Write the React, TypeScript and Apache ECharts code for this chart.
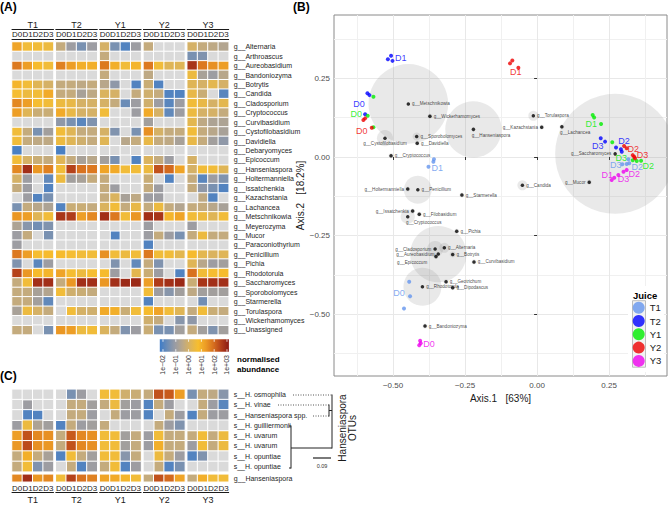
import React, { useEffect, useRef } from "react";
import * as echarts from "echarts";

const N = null;
const FONT = "'Liberation Sans', Arial, Helvetica, sans-serif";

const juices = ["T1", "T2", "Y1", "Y2", "Y3"];
const days = ["D0", "D1", "D2", "D3"];
const juiceColors = ["#6495ED", "#0000FF", "#00EE00", "#EE0000", "#EE00EE"];

const genera = ["g__Alternaria","g__Arthroascus","g__Aureobasidium","g__Bandoniozyma","g__Botrytis","g__Candida","g__Cladosporium","g__Cryptococcus","g__Curvibasidium","g__Cystofilobasidium","g__Davidiella","g__Debaryomyces","g__Epicoccum","g__Hanseniaspora","g__Holtermanniella","g__Issatchenkia","g__Kazachstania","g__Lachancea","g__Metschnikowia","g__Meyerozyma","g__Mucor","g__Paraconiothyrium","g__Penicillium","g__Pichia","g__Rhodotorula","g__Saccharomyces","g__Sporobolomyces","g__Starmerella","g__Torulaspora","g__Wickerhamomyces","g__Unassigned"];

// log10 normalised abundance, null = absent
const genusT1 = [[1.2,0.6,0.6,0.5],[N,N,N,N],[1.8,1.3,0.8,0.6],[N,N,N,N],[0.9,0.6,0.2,0.0],[0.7,0.5,0.6,1.1],[1.6,1.3,0.7,0.6],[1.3,0.2,-0.2,-0.2],[N,N,N,N],[0.6,-0.3,-1.5,-0.9],[0.6,-0.3,-0.4,-0.4],[-2.1,N,N,N],[0.6,0.0,-0.2,-0.3],[1.6,2.8,1.4,1.7],[0.0,-1.0,N,-1.8],[-0.3,-1.0,N,-2.0],[N,-1.0,-2.0,-1.5],[-1.5,-0.3,-0.5,-0.7],[1.4,1.3,0.2,0.6],[-0.7,-1.3,-1.6,-1.4],[-1.0,-0.3,N,-1.5],[-1.0,N,N,N],[1.8,1.3,0.7,0.8],[-1.4,N,-1.9,-1.0],[2.5,1.4,0.8,0.9],[-0.3,0.6,2.8,2.8],[-0.3,-0.3,-0.8,-0.6],[-0.3,-0.3,-0.9,-1.8],[-0.8,0.5,0.0,-0.3],[N,N,N,N],[-0.3,-0.3,N,-1.5]];
const genusT2 = [[-0.3,-1.0,-1.5,-1.0],[N,N,N,N],[1.7,1.3,1.0,1.0],[N,N,N,N],[-0.3,-0.3,-0.4,-0.3],[-0.3,-0.3,-0.8,-0.4],[0.5,0.4,0.0,0.0],[1.1,0.4,0.0,0.0],[-1.2,-1.5,-1.9,-1.4],[0.6,0.2,-0.3,-0.3],[0.5,0.2,-0.1,-0.3],[-2.1,N,N,N],[0.2,-0.3,-0.8,-0.5],[0.6,2.5,1.9,1.8],[0.5,-0.9,-0.8,-0.3],[N,N,N,N],[N,N,N,N],[-2.0,-0.2,-0.2,-0.3],[2.7,2.6,1.3,1.6],[N,N,N,N],[N,N,N,N],[N,N,N,N],[0.8,0.7,0.6,0.6],[N,N,N,N],[1.2,0.7,0.5,0.7],[-0.3,1.4,2.8,2.8],[0.6,-0.1,-0.2,-0.3],[N,N,N,N],[N,0.6,0.0,-0.1],[N,N,N,N],[1.4,1.3,0.5,0.6]];
const genusY1 = [[0.0,-1.5,-2.0,-1.0],[-0.3,N,N,N],[1.8,1.0,0.6,0.9],[-0.3,N,N,N],[-0.5,-1.2,N,-2.0],[0.1,0.0,N,-0.3],[0.0,-0.3,-1.7,-1.0],[0.6,N,N,-1.0],[N,N,N,N],[0.0,-1.4,N,-1.5],[0.2,N,-0.5,-0.3],[N,N,N,N],[-0.9,-1.5,N,-2.0],[1.2,1.1,0.6,0.6],[-0.3,N,N,N],[-0.3,-1.0,N,N],[-0.3,0.1,-0.8,-0.4],[0.1,0.6,-0.3,0.4],[2.8,1.8,0.6,1.4],[N,N,N,N],[N,-2.0,N,N],[N,N,N,N],[1.5,0.6,0.5,0.6],[N,-1.4,N,-1.8],[0.8,-1.0,N,0.3],[1.4,2.8,2.9,2.9],[N,N,N,N],[N,N,N,N],[1.1,1.0,-0.2,0.6],[N,N,N,N],[0.1,-0.3,-1.4,-1.0]];
const genusY2 = [[-0.3,N,N,N],[N,N,N,N],[1.8,0.6,0.2,0.2],[-0.4,N,N,N],[-0.2,-2.0,N,N],[-0.1,-0.3,-2.0,-2.0],[-0.1,-1.0,-1.9,-1.0],[1.1,0.0,-1.8,-1.0],[-0.9,N,N,N],[1.5,0.0,-0.3,-0.3],[0.4,-0.3,-0.4,-0.8],[N,N,N,N],[0.1,-0.3,-1.0,N],[0.5,2.3,2.0,1.2],[-0.2,N,-2.0,N],[-0.3,-1.0,N,N],[-1.0,-1.0,N,N],[-0.3,0.5,-0.3,-0.6],[2.8,2.7,0.9,1.2],[-1.0,N,N,N],[-1.0,-0.3,-1.0,-1.5],[-2.0,N,N,N],[1.8,0.6,0.6,0.3],[-0.3,-1.4,N,N],[-0.2,-1.0,N,-2.0],[1.3,2.6,2.8,2.9],[0.6,-1.0,-1.3,-0.9],[-2.0,N,N,N],[0.8,1.2,0.6,0.2],[-0.1,-0.3,N,-1.3],[-0.2,-1.5,-1.5,-0.9]];
const genusY3 = [[0.0,-0.3,-0.4,-0.6],[-1.5,-1.4,N,N],[2.7,1.8,1.5,1.3],[0.5,-0.8,-1.0,-0.5],[0.2,0.0,0.3,0.0],[0.4,-0.2,N,-1.9],[0.6,0.4,0.0,0.3],[0.5,0.0,0.0,-0.3],[0.3,-0.4,-0.7,-0.7],[0.6,-0.3,-0.5,-0.8],[0.4,-0.3,-0.9,-1.2],[N,N,N,N],[0.0,N,N,N],[0.0,0.6,0.6,0.2],[-0.3,-1.9,-1.0,-1.4],[-0.3,-1.2,-1.5,-2.0],[N,-0.4,-2.0,N],[-0.3,-0.3,-0.5,-0.8],[0.6,0.5,0.2,0.6],[-1.0,N,N,N],[-0.3,0.5,-0.3,-0.3],[N,N,N,N],[0.8,0.3,0.1,0.2],[0.2,-0.5,-1.0,-0.9],[1.9,0.6,0.7,0.8],[-0.2,2.7,2.8,2.8],[-0.4,-0.9,-0.9,-0.9],[N,-1.6,N,N],[-0.3,0.6,-0.2,-0.3],[-1.2,N,N,N],[-0.3,-0.9,-1.4,-0.9]];

const otus = ["s__H. osmophila","s__H. vinae","s__Hanseniaspora spp.","s__H. guilliermonii","s__H. uvarum","s__H. uvarum","s__H. opuntiae","s__H. opuntiae"];
const genusRow = ["g__Hanseniaspora"];
const otuT1 = [[N,N,N,N],[N,-1.0,N,N],[N,-2.0,-2.0,N],[-1.0,0.5,-0.7,-0.9],[1.3,2.3,1.6,1.5],[1.4,2.4,1.5,1.4],[-0.3,1.0,-0.3,-0.8],[-0.3,0.6,-1.4,-1.0]];
const otuT2 = [[N,-1.5,-1.0,N],[N,-0.3,-0.3,-0.9],[N,-0.3,-0.3,-1.0],[-2.0,-0.3,-1.0,-0.9],[-0.3,2.2,1.6,1.5],[-0.3,2.3,1.6,1.5],[-2.0,0.6,-0.3,-0.9],[N,-0.3,-2.0,-1.0]];
const otuY1 = [[0.6,0.6,-0.1,-0.2],[-0.3,0.5,-0.9,-1.0],[N,-0.3,-1.0,-1.0],[-0.3,N,N,N],[0.6,0.6,-0.9,-0.3],[0.6,0.6,-0.9,-0.3],[0.6,0.6,-1.3,-0.3],[-0.3,0.6,-2.0,-1.0]];
const otuY2 = [[-0.3,2.3,2.2,1.3],[-2.0,-0.3,-1.0,N],[-2.0,N,-0.3,-1.0],[N,-0.3,-1.0,-1.4],[-1.0,0.6,-0.3,-0.3],[-1.0,1.0,-0.3,-0.3],[N,0.5,-0.3,-1.0],[N,-0.3,-2.0,-1.5]];
const otuY3 = [[-1.5,-0.3,-0.4,-1.3],[N,-0.3,-1.0,-1.9],[-2.0,-0.3,-1.0,-1.0],[N,N,N,N],[-0.3,0.6,-0.3,0.5],[-1.0,0.6,-0.3,0.5],[-2.0,-1.4,N,N],[N,N,N,N]];
const hanseT1 = [[1.6,2.8,1.4,1.6]];
const hanseT2 = [[0.6,2.5,1.9,1.7]];
const hanseY1 = [[1.2,1.1,0.9,0.6]];
const hanseY2 = [[-0.3,2.3,2.0,1.2]];
const hanseY3 = [[-0.3,1.0,0.6,0.6]];

const colorTicks = [-2, -1, 0, 1, 2, 3];
const colorTickLabels = ["1e\u221202", "1e\u221201", "1e+00", "1e+01", "1e+02", "1e+03"];

// Panel B: ordination
const taxaNames = ["g__Metschnikowia","g__Wickerhamomyces","g__Cystofilobasidium","g__Sporobolomyces","g__Davidiella","g__Cryptococcus","g__Holtermanniella","g__Penicillium","g__Issatchenkia","g__Filobasidium","g__Cryptococcus","g__Hanseniaspora","g__Torulaspora","g__Kazachstania","g__Lachancea","g__Saccharomyces","g__Candida","g__Mucor","g__Starmerella","g__Pichia","g__Alternaria","g__Botrytis","g__Curvibasidium","g__Geotrichum","g__Dipodascus","g__Bandoniozyma","g__Cladosporium","g__Aureobasidium","g__Epicoccum","g__Rhodotorula"];
const taxaAxis1 = [-0.447,-0.372,-0.528,-0.418,-0.416,-0.507,-0.449,-0.414,-0.432,-0.409,-0.449,-0.221,-0.013,0.016,0.086,0.271,-0.051,0.181,-0.261,-0.279,-0.322,-0.293,-0.219,-0.316,-0.293,-0.389,-0.354,-0.343,-0.351,-0.398];
const taxaAxis2 = [0.169,0.130,0.060,0.065,0.044,0.004,-0.102,-0.104,-0.172,-0.182,-0.190,0.088,0.131,0.095,0.096,0.010,-0.090,-0.080,-0.121,-0.236,-0.289,-0.310,-0.334,-0.397,-0.416,-0.538,-0.293,-0.309,-0.317,-0.413];
const taxaWeight = [44,0.17,1.8,0.45,0.17,0.17,0.17,5.4,0.17,0.17,1.4,22,0.7,0.17,0.17,100,0.7,0.17,0.17,0.17,0.7,0.25,0.17,0.17,0.17,0.17,1.8,22,0.17,10];
const taxaLabelSide = ["right","right","bottom","right","right","right","left","right","left","right","belowRight","belowRight","right","left","belowRight","left","right","left","right","right","right","right","right","right","right","right","left","left","belowLeft","right"];

const t1Axis1 = [-0.358,-0.360,-0.377,-0.444,-0.441,-0.462,0.296,0.311,0.320,0.317];
const t1Axis2 = [-0.007,-0.015,-0.031,-0.397,-0.443,-0.482,-0.023,-0.022,-0.020,-0.007];
const t2Axis1 = [-0.518,-0.507,-0.502,-0.589,-0.582,-0.597,0.221,0.236,0.274,0.291,0.294];
const t2Axis2 = [0.311,0.322,0.306,0.203,0.197,0.136,0.060,0.049,0.030,0.025,0.017];
const y1Axis1 = [-0.568,-0.588,-0.568,0.193,0.198,0.222,0.261,0.332,0.346,0.361];
const y1Axis2 = [0.192,0.131,0.095,0.134,0.126,0.105,0.047,-0.010,-0.013,-0.012];
const y2Axis1 = [-0.094,-0.086,-0.065,-0.603,-0.597,-0.574,0.302,0.311,0.332,0.337,0.340];
const y2Axis2 = [0.298,0.307,0.284,0.118,0.123,0.093,0.035,0.028,0.006,0.001,-0.004];
const y3Axis1 = [-0.406,-0.404,-0.409,0.259,0.268,0.282,0.300,0.311];
const y3Axis2 = [-0.585,-0.593,-0.599,-0.073,-0.066,-0.057,-0.047,-0.041];

const t1Labels = [["D1",-0.347,-0.035],["D0",-0.479,-0.433],["D3",0.273,-0.025],["D2",0.348,-0.031]];
const t2Labels = [["D1",-0.473,0.316],["D0",-0.618,0.168],["D3",0.211,0.035],["D2",0.302,0.051]];
const y1Labels = [["D0",-0.628,0.137],["D1",0.188,0.105],["D3",0.292,-0.004],["D2",0.386,-0.028]];
const y2Labels = [["D1",-0.074,0.270],["D0",-0.609,0.084],["D2",0.334,0.025],["D3",0.366,0.006]];
const y3Labels = [["D0",-0.375,-0.596],["D1",0.244,-0.057],["D3",0.300,-0.070],["D2",0.337,-0.054]];

const xTickVals = [-0.5, -0.25, 0, 0.25];
const xMinorVals = [-0.625, -0.375, -0.125, 0.125, 0.375];
const yTickVals = [-0.5, -0.25, 0, 0.25];
const yMinorVals = [-0.625, -0.375, -0.125, 0.125, 0.375];

const cellColors = ["#3e7cc8","#6e8db5","#9a9ca4","#bba888","#ddb45a","#f7be2e","#ec9b25","#d66e1e","#b23e1a","#8b1a14"];
const SCALE_MIN = -2.25;
const SCALE_MAX = 3.15;

function buildOption() {
  const grids: any[] = [];
  const xAxes: any[] = [];
  const yAxes: any[] = [];
  const series: any[] = [];
  const valueSeries: number[] = [];
  const naSeries: number[] = [];

  const groupLeft = (g: number) => 12 + g * 43.8;
  const GW = 41.5;
  const dark = "#1a1a1a";

  const heat = (xi: number, yi: number, rows: (number | null)[][]) => {
    const vals: number[][] = [];
    const nas: number[][] = [];
    rows.forEach((row, r) => row.forEach((v, c) => {
      if (v == null) nas.push([c, r, 0]); else vals.push([c, r, v]);
    }));
    valueSeries.push(series.length);
    series.push({ type: "heatmap", xAxisIndex: xi, yAxisIndex: yi, data: vals, silent: true,
      itemStyle: { borderColor: "#fff", borderWidth: 1 }, emphasis: { disabled: true } });
    naSeries.push(series.length);
    series.push({ type: "heatmap", xAxisIndex: xi, yAxisIndex: yi, data: nas, silent: true,
      itemStyle: { borderColor: "#fff", borderWidth: 1 }, emphasis: { disabled: true } });
  };

  const hiddenX = (gi: number) => ({ type: "category", gridIndex: gi, data: days, show: false });

  const genusByJuice = [genusT1, genusT2, genusY1, genusY2, genusY3];
  const otuByJuice = [otuT1, otuT2, otuY1, otuY2, otuY3];
  const hanseByJuice = [hanseT1, hanseT2, hanseY1, hanseY2, hanseY3];

  juices.forEach((j, g) => {
    // Panel A
    let gi = grids.length;
    grids.push({ left: groupLeft(g), top: 42, width: GW, height: 292.6 });
    let xi = xAxes.length;
    xAxes.push({ type: "category", gridIndex: gi, data: days, position: "top", offset: 2.7,
      axisLine: { show: true, lineStyle: { color: dark, width: 1 } }, axisTick: { show: false },
      axisLabel: { fontSize: 8, margin: 1, color: dark, interval: 0 }, splitLine: { show: false } });
    xAxes.push({ type: "category", gridIndex: gi, data: days, position: "top", offset: 12.3,
      axisLine: { show: true, lineStyle: { color: dark, width: 1 } }, axisTick: { show: false },
      axisLabel: { show: false }, splitLine: { show: false },
      name: j, nameLocation: "middle", nameGap: 0, nameTextStyle: { fontSize: 9, color: dark } });
    let yi = yAxes.length;
    yAxes.push({ type: "category", gridIndex: gi, data: genera, inverse: true, position: "right",
      axisLine: { show: false }, axisTick: { show: false }, splitLine: { show: false },
      axisLabel: { show: g === 4, fontSize: 7, margin: 5, color: "#262626", interval: 0 } });
    heat(xi, yi, genusByJuice[g]);

    // Panel C, OTU rows
    gi = grids.length;
    grids.push({ left: groupLeft(g), top: 389.3, width: GW, height: 82.4 });
    xi = xAxes.length;
    xAxes.push(hiddenX(gi));
    yi = yAxes.length;
    yAxes.push({ type: "category", gridIndex: gi, data: otus, inverse: true, position: "right",
      axisLine: { show: false }, axisTick: { show: false }, splitLine: { show: false },
      axisLabel: { show: g === 4, fontSize: 7, margin: 5, color: "#262626", interval: 0 } });
    heat(xi, yi, otuByJuice[g]);

    // Panel C, genus row
    gi = grids.length;
    grids.push({ left: groupLeft(g), top: 474.3, width: GW, height: 10 });
    xi = xAxes.length;
    xAxes.push({ type: "category", gridIndex: gi, data: days, position: "bottom",
      axisLine: { show: false }, axisTick: { show: false },
      axisLabel: { fontSize: 8, margin: 2.5, color: dark, interval: 0 }, splitLine: { show: false } });
    xAxes.push({ type: "category", gridIndex: gi, data: days, position: "bottom", offset: 10.7,
      axisLine: { show: true, lineStyle: { color: dark, width: 1 } }, axisTick: { show: false },
      axisLabel: { show: false }, splitLine: { show: false },
      name: j, nameLocation: "middle", nameGap: 2.5, nameTextStyle: { fontSize: 9, color: dark } });
    yi = yAxes.length;
    yAxes.push({ type: "category", gridIndex: gi, data: genusRow, position: "right",
      axisLine: { show: false }, axisTick: { show: false }, splitLine: { show: false },
      axisLabel: { show: g === 4, fontSize: 7, margin: 5, color: "#262626", interval: 0 } });
    heat(xi, yi, hanseByJuice[g]);
  });

  // Panel B
  const bi = grids.length;
  grids.push({ left: 334, top: 15, width: 333, height: 361, show: true, borderColor: "#8a8a8a", borderWidth: 1, backgroundColor: "#ffffff" });
  const fmt = (v: number) => v.toFixed(2).replace("-", "\u2212");
  const bx = xAxes.length;
  xAxes.push({ type: "value", gridIndex: bi, min: -0.705, max: 0.451, position: "bottom",
    axisLine: { show: false },
    axisTick: { show: true, length: 3, customValues: xTickVals, lineStyle: { color: "#333" } },
    axisLabel: { customValues: xTickVals, formatter: fmt, fontSize: 8, color: "#4d4d4d", margin: 5 },
    splitLine: { show: true, lineStyle: { color: "#e8e8e8", width: 1 } },
    name: "Axis.1\u00a0\u00a0\u00a0[63%]", nameLocation: "middle", nameGap: 14,
    nameTextStyle: { fontSize: 10, color: dark } });
  xAxes.push({ type: "value", gridIndex: bi, min: -0.705, max: 0.451, position: "bottom",
    axisLine: { show: false }, axisLabel: { show: false },
    axisTick: { show: false, customValues: xMinorVals },
    splitLine: { show: true, lineStyle: { color: "#f0f0f0", width: 1 } } });
  const by = yAxes.length;
  yAxes.push({ type: "value", gridIndex: bi, min: -0.697, max: 0.452, position: "left",
    axisLine: { show: false },
    axisTick: { show: true, length: 3, customValues: yTickVals, lineStyle: { color: "#333" } },
    axisLabel: { customValues: yTickVals, formatter: fmt, fontSize: 8, color: "#4d4d4d", margin: 4 },
    splitLine: { show: true, lineStyle: { color: "#e8e8e8", width: 1 } },
    name: "Axis.2\u00a0\u00a0\u00a0[18.2%]", nameLocation: "middle", nameGap: 12,
    nameTextStyle: { fontSize: 10, color: dark } });
  yAxes.push({ type: "value", gridIndex: bi, min: -0.697, max: 0.452, position: "left",
    axisLine: { show: false }, axisLabel: { show: false },
    axisTick: { show: false, customValues: yMinorVals },
    splitLine: { show: true, lineStyle: { color: "#f0f0f0", width: 1 } } });

  series.push({ type: "scatter", xAxisIndex: bx, yAxisIndex: by, silent: true, z: 2,
    data: taxaNames.map((n, i) => [taxaAxis1[i], taxaAxis2[i], taxaWeight[i]]),
    symbolSize: (v: number[]) => 12 * Math.sqrt(v[2]),
    itemStyle: { color: "rgba(128,128,128,0.22)" } });

  const sideLabel = (s: string) => {
    if (s === "left") return { position: "left", distance: 2 };
    if (s === "bottom") return { position: "bottom", distance: 1 };
    if (s === "belowRight") return { position: [0, 5], align: "left", verticalAlign: "top" };
    if (s === "belowLeft") return { position: [-7, 5], align: "right", verticalAlign: "top" };
    return { position: "right", distance: 2 };
  };
  series.push({ type: "scatter", xAxisIndex: bx, yAxisIndex: by, silent: true, z: 3,
    symbolSize: 3.5, itemStyle: { color: "#000" },
    data: taxaNames.map((n, i) => ({ name: n, value: [taxaAxis1[i], taxaAxis2[i]],
      label: { show: true, formatter: "{b}", fontSize: 4.6, color: "#111", ...sideLabel(taxaLabelSide[i]) } })) });

  const juicePts = [[t1Axis1, t1Axis2], [t2Axis1, t2Axis2], [y1Axis1, y1Axis2], [y2Axis1, y2Axis2], [y3Axis1, y3Axis2]];
  const juiceLbls = [t1Labels, t2Labels, y1Labels, y2Labels, y3Labels];
  juices.forEach((j, k) => {
    series.push({ type: "scatter", name: j, xAxisIndex: bx, yAxisIndex: by, silent: true, z: 4,
      symbolSize: 4, itemStyle: { color: juiceColors[k] },
      data: juicePts[k][0].map((x, i) => [x, juicePts[k][1][i]]) });
  });
  juices.forEach((j, k) => {
    series.push({ type: "scatter", name: j + " label", xAxisIndex: bx, yAxisIndex: by, silent: true, z: 5,
      symbolSize: 1, itemStyle: { color: "rgba(0,0,0,0)" },
      label: { show: true, position: "inside", formatter: "{b}", fontSize: 9, color: juiceColors[k] },
      data: juiceLbls[k].map((l: any) => ({ name: l[0], value: [l[1], l[2]] })) });
  });

  // graphic elements
  const cbLeft = 159.8, cbTop = 339.3, cbW = 69.1, cbH = 12.4;
  const cbX = (v: number) => cbLeft + (v - SCALE_MIN) / (SCALE_MAX - SCALE_MIN) * cbW;
  const txt = (x: number, y: number, text: string, extra: any = {}, rot = 0, z = 20) => ({
    type: "text", x, y, rotation: rot, silent: true, z,
    style: { text, fontFamily: FONT, fontSize: 9, fill: dark, align: "left", verticalAlign: "middle", ...extra } });
  const ln = (x1: number, y1: number, x2: number, y2: number, extra: any = {}) => ({
    type: "line", silent: true, z: 20, shape: { x1, y1, x2, y2 }, style: { stroke: "#222", lineWidth: 1, ...extra } });

  const graphics: any[] = [
    txt(0, 7, "(A)", { fontSize: 12, fontWeight: "bold", fill: "#000" }),
    txt(293, 7, "(B)", { fontSize: 12, fontWeight: "bold", fill: "#000" }),
    txt(0, 376, "(C)", { fontSize: 12, fontWeight: "bold", fill: "#000" }),
    { type: "rect", silent: true, z: 20, shape: { x: cbLeft, y: cbTop, width: cbW, height: cbH },
      style: { fill: new echarts.graphic.LinearGradient(0, 0, 1, 0,
        cellColors.map((c, i) => ({ offset: i / (cellColors.length - 1), color: c }))) } },
    txt(237, 359.5, "normalised", { fontSize: 8, fontWeight: "bold", fill: "#000" }),
    txt(237, 369.5, "abundance", { fontSize: 8, fontWeight: "bold", fill: "#000" }),
    // legend background (white box inside the panel) and key column
    { type: "rect", silent: true, z: 15, shape: { x: 628, y: 286, width: 36, height: 86 },
      style: { fill: "#ffffff" } },
    { type: "rect", silent: true, z: 16, shape: { x: 632.5, y: 300.7, width: 13, height: 66.5 },
      style: { fill: "#f2f2f2", stroke: "#bdbdbd", lineWidth: 1 } },
    txt(633, 295, "Juice", { fontSize: 9.5, fontWeight: "bold", fill: "#000" }),
    // tree
    ln(293, 395, 332, 395, { lineDash: [1, 1.5], stroke: "#555" }),
    ln(278, 405, 329, 405, { lineDash: [1, 1.5], stroke: "#555" }),
    ln(313, 416, 329, 416, { lineDash: [1, 1.5], stroke: "#555" }),
    ln(329, 404.5, 329, 416.5),
    ln(329, 410.5, 332, 410.5),
    ln(332, 394.5, 332, 448.5),
    ln(291, 448, 332, 448),
    ln(291, 425.5, 291, 468.5),
    ln(289, 426, 291, 426),
    ln(289, 468, 291, 468),
    ln(313, 458, 331, 458, { lineWidth: 1.2 }),
    txt(322, 466, "0.09", { fontSize: 5.5, align: "center", fill: "#333" }),
    txt(342, 428, "Hanseniaspora", { fontSize: 10, align: "center" }, Math.PI / 2),
    txt(352.5, 428, "OTUs", { fontSize: 10, align: "center" }, Math.PI / 2),
  ];
  colorTicks.forEach((v, i) => {
    const x = cbX(v);
    graphics.push(ln(x, cbTop, x, cbTop + 2.5, { stroke: "#fff", lineWidth: 0.8 }));
    graphics.push(ln(x, cbTop + cbH - 2.5, x, cbTop + cbH, { stroke: "#fff", lineWidth: 0.8 }));
    graphics.push(txt(x, 355, colorTickLabels[i], { fontSize: 7, align: "right", fill: "#333" }, Math.PI / 2));
  });

  return {
    animation: false,
    textStyle: { fontFamily: FONT },
    grid: grids,
    xAxis: xAxes,
    yAxis: yAxes,
    visualMap: [
      { type: "continuous", show: false, min: SCALE_MIN, max: SCALE_MAX, dimension: 2,
        seriesIndex: valueSeries, inRange: { color: cellColors } },
      { type: "continuous", show: false, min: 0, max: 1, dimension: 2,
        seriesIndex: naSeries, inRange: { color: ["#dadada", "#dadada"] } },
    ],
    legend: { data: juices, orient: "vertical", left: 632.7, top: 301.7, itemWidth: 12, itemHeight: 12,
      itemGap: 1.3, icon: "circle", selectedMode: false, padding: 0, z: 30,
      textStyle: { fontSize: 9.5, color: dark, fontFamily: FONT } },
    graphic: graphics,
    series,
  };
}

export default function App() {
  const ref = useRef<HTMLDivElement>(null);
  useEffect(() => {
    const chart = echarts.init(ref.current!, null, { renderer: "svg" });
    chart.setOption(buildOption() as any);
    return () => chart.dispose();
  }, []);
  return <div ref={ref} style={{ width: 668, height: 505, position: "absolute", left: 0, top: 0 }} />;
}
